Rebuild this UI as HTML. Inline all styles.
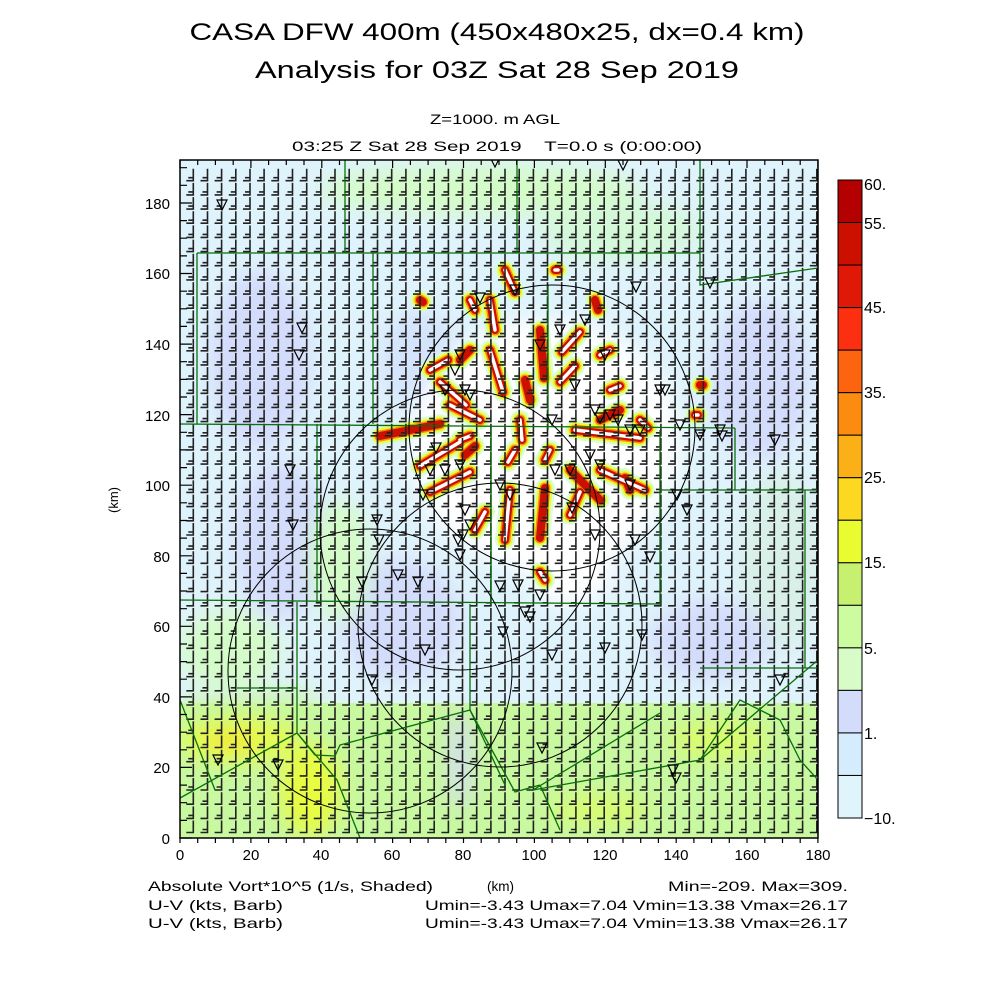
<!DOCTYPE html>
<html><head><meta charset="utf-8"><style>
html,body{margin:0;padding:0;background:#fff;}
svg{display:block;}
text{font-family:"Liberation Sans",sans-serif;fill:#000;}
</style></head><body>
<svg id="s" width="1000" height="1000" viewBox="0 0 1000 1000" xmlns="http://www.w3.org/2000/svg">
<defs>
<clipPath id="pc"><rect x="180" y="160" width="638" height="678"/></clipPath>
<filter id="bl" x="-50%" y="-50%" width="200%" height="200%"><feGaussianBlur stdDeviation="10"/></filter>
<filter id="bl2" x="-50%" y="-50%" width="200%" height="200%"><feGaussianBlur stdDeviation="3"/></filter>
</defs>
<text x="497" y="40" font-size="24" text-anchor="middle" textLength="615" lengthAdjust="spacingAndGlyphs">CASA DFW 400m (450x480x25, dx=0.4 km)</text>
<text x="497" y="78" font-size="24" text-anchor="middle" textLength="484" lengthAdjust="spacingAndGlyphs">Analysis for 03Z Sat 28 Sep 2019</text>
<text x="495" y="124" font-size="14" text-anchor="middle" textLength="130" lengthAdjust="spacingAndGlyphs">Z=1000. m AGL</text>
<text x="497" y="151" font-size="14" text-anchor="middle" textLength="410" lengthAdjust="spacingAndGlyphs" xml:space="preserve">03:25 Z Sat 28 Sep 2019    T=0.0 s (0:00:00)</text>
<g clip-path="url(#pc)">
<rect x="180" y="160" width="638" height="678" fill="#dff3fc"/>
<g filter="url(#bl)">
<ellipse cx="480" cy="190" rx="160" ry="25" fill="#d4fcc8"/>
<ellipse cx="620" cy="230" rx="80" ry="30" fill="#d4f8d8"/>
<ellipse cx="260" cy="360" rx="50" ry="90" fill="#d4dcfc"/>
<ellipse cx="280" cy="540" rx="45" ry="80" fill="#d4dcfc"/>
<ellipse cx="400" cy="620" rx="60" ry="60" fill="#d4dcfc"/>
<ellipse cx="420" cy="360" rx="40" ry="50" fill="#d4e4fc"/>
<ellipse cx="760" cy="380" rx="50" ry="80" fill="#d4dcfc"/>
<ellipse cx="780" cy="560" rx="40" ry="90" fill="#d8f0e8"/>
<ellipse cx="710" cy="640" rx="60" ry="40" fill="#d4dcfc"/>
<ellipse cx="340" cy="560" rx="30" ry="60" fill="#d4fcc8"/>
<ellipse cx="230" cy="650" rx="50" ry="40" fill="#d4fcc8"/>
</g>
<rect x="180" y="703" width="638" height="135" fill="#c8f8a0"/>
<path d="M180 700 L300 690 L330 705 L180 720Z" fill="#c8f8a0" filter="url(#bl)"/>
<g filter="url(#bl)">
<ellipse cx="240" cy="740" rx="60" ry="22" fill="#e4fc50"/>
<ellipse cx="310" cy="790" rx="30" ry="45" fill="#e8fc40"/>
<ellipse cx="230" cy="741" rx="25" ry="6" fill="#fcd820"/>
<ellipse cx="720" cy="740" rx="50" ry="20" fill="#d8fc70"/>
<ellipse cx="460" cy="760" rx="10" ry="50" fill="#d4dcfc"/>
<ellipse cx="600" cy="810" rx="50" ry="15" fill="#d8fc70"/>
</g>
<g filter="url(#bl)"><ellipse cx="545" cy="445" rx="135" ry="125" fill="#ffffff"/><ellipse cx="545" cy="445" rx="110" ry="100" fill="#ffffff"/><ellipse cx="570" cy="560" rx="45" ry="45" fill="#ffffff"/></g>
<g id="streaks" stroke-linecap="round" fill="none"></g>
<g id="barbs" stroke="#222" stroke-width="1.6" fill="none"></g>
<g stroke="#0a6e0a" stroke-width="1.3" fill="none">
<path d="M197 253 L700 253 M197 253 L197 424 M180 424 L735 428 M373 253 L373 424 M345 160 L345 253 M517 160 L517 253 M548 285 L548 430 M317 424 L317 602 M491 428 L491 604 M660 430 L660 604 M180 600 L660 604 M297 602 L297 733 M237 688 L297 688 M470 604 L470 710 M735 428 L735 490 M660 490 L818 490 M805 490 L805 668 M700 668 L818 668 M700 160 L700 285 L818 268"/>
<path d="M180 798 L297 733 L315 755 L335 756 L340 745 L470 710 L515 792 L540 785"/>
<path d="M470 710 L505 785 M540 785 L560 830 M180 700 L215 790 M660 713 L533 790 M533 790 L700 760 L818 660 M297 733 L337 780 L360 838 M700 760 L740 700 L780 720 L800 760 L818 780"/>
</g>
<g stroke="#000" stroke-width="1" fill="none">
<circle cx="552" cy="428" r="143"/>
<circle cx="460" cy="530" r="140"/>
<circle cx="500" cy="625" r="142"/>
<circle cx="370" cy="671" r="142"/>
</g>
<g id="tri" stroke="#000" stroke-width="1.2" fill="none"></g>
</g>
<rect x="180" y="160" width="638" height="678" fill="none" stroke="#000" stroke-width="1.5"/>
<g id="ticks" stroke="#000" stroke-width="1.2"></g>
<g font-size="15" text-anchor="middle">
<text x="180" y="860">0</text><text x="251" y="860">20</text><text x="321" y="860">40</text><text x="392" y="860">60</text><text x="463" y="860">80</text><text x="534" y="860">100</text><text x="605" y="860">120</text><text x="676" y="860">140</text><text x="747" y="860">160</text><text x="818" y="860">180</text>
</g>
<g font-size="15" text-anchor="end">
<text x="170" y="844">0</text><text x="170" y="773">20</text><text x="170" y="703">40</text><text x="170" y="632">60</text><text x="170" y="562">80</text><text x="170" y="491">100</text><text x="170" y="421">120</text><text x="170" y="350">140</text><text x="170" y="279">160</text><text x="170" y="209">180</text>
</g>
<text x="118" y="500" font-size="13" text-anchor="middle" transform="rotate(-90 118 500)">(km)</text>
<g id="cbar"></g>
<g font-size="16">
<text x="864" y="190">60.</text><text x="864" y="229">55.</text><text x="864" y="313">45.</text><text x="864" y="398">35.</text><text x="864" y="483">25.</text><text x="864" y="568">15.</text><text x="864" y="654">5.</text><text x="864" y="739">1.</text><text x="864" y="824">−10.</text>
</g>
<g font-size="14">
<text x="148" y="891" textLength="285" lengthAdjust="spacingAndGlyphs">Absolute Vort*10^5 (1/s, Shaded)</text>
<text x="487" y="891" textLength="27" lengthAdjust="spacingAndGlyphs">(km)</text>
<text x="668" y="891" textLength="180" lengthAdjust="spacingAndGlyphs">Min=-209. Max=309.</text>
<text x="148" y="910" textLength="135" lengthAdjust="spacingAndGlyphs">U-V (kts, Barb)</text>
<text x="425" y="910" textLength="423" lengthAdjust="spacingAndGlyphs">Umin=-3.43 Umax=7.04 Vmin=13.38 Vmax=26.17</text>
<text x="148" y="928" textLength="135" lengthAdjust="spacingAndGlyphs">U-V (kts, Barb)</text>
<text x="425" y="928" textLength="423" lengthAdjust="spacingAndGlyphs">Umin=-3.43 Umax=7.04 Vmin=13.38 Vmax=26.17</text>
</g>
</svg>
<script>
var NS="http://www.w3.org/2000/svg";
function el(p,t,a){var e=document.createElementNS(NS,t);for(var k in a)e.setAttribute(k,a[k]);p.appendChild(e);return e;}
var st=document.getElementById('streaks');
var S=[[505,270,515,292],[490,350,503,392],[540,330,544,378],[580,332,562,352],[560,382,575,366],[420,300,423,302],[470,300,475,310],[440,382,466,405],[380,436,440,424],[420,466,460,442],[430,492,470,472],[465,455,475,446],[475,530,485,512],[505,540,510,490],[540,538,545,488],[545,460,550,450],[570,515,580,492],[570,470,600,500],[575,430,640,438],[600,470,645,490],[625,478,630,490],[540,572,545,580],[508,462,515,450],[600,420,620,410],[610,390,620,386],[460,440,470,436],[700,385,703,385],[695,415,698,415],[555,270,558,270],[525,380,530,400],[450,405,480,420],[490,300,495,330],[595,300,598,310],[640,420,648,428],[430,370,448,360],[460,360,470,350],[520,420,522,440],[600,355,610,350]];
var layers=[["#d4fcc8",20,0.8],["#e8fc30",15,1],["#fc8c10",11,1],["#cc1000",8,1],["#ffffff",3.5,1]];
layers.forEach(function(L){S.forEach(function(s,i){var w=L[1];if(L[0]=="#ffffff"&&(i%3==2))return;
el(st,'line',{x1:s[0],y1:s[1],x2:s[2],y2:s[3],stroke:L[0],'stroke-width':w,opacity:L[2]});});});
var b=document.getElementById('barbs'),d="";
var dx=14.17;
for(var j=-40;j<12;j++){var y=705+dx*j;if(y<168||y>838)continue;
for(var i=0;i<45;i++){var x=193.3+dx*i;if(x>818)continue;
d+="M"+x.toFixed(1)+" "+(y-12).toFixed(1)+"V"+y.toFixed(1)+"h-7";
if(y<560||(i+j)%2==0)d+="M"+x.toFixed(1)+" "+(y-3).toFixed(1)+"h-5";}}
el(b,'path',{d:d});
var T=[[222,205],[302,328],[299,355],[495,162],[623,165],[480,298],[515,290],[560,330],[585,320],[605,355],[636,287],[460,355],[455,370],[465,390],[540,345],[552,420],[575,385],[595,410],[600,418],[610,415],[618,420],[630,430],[640,430],[665,390],[680,425],[700,435],[720,430],[775,440],[660,390],[445,390],[470,395],[436,448],[460,465],[445,470],[423,495],[430,470],[465,510],[470,525],[463,535],[458,540],[500,485],[510,495],[555,470],[570,470],[590,455],[600,465],[630,485],[635,540],[650,557],[677,495],[687,510],[290,470],[377,520],[379,540],[293,525],[398,575],[418,582],[362,582],[460,555],[500,586],[518,585],[525,612],[530,617],[503,632],[552,655],[605,648],[642,635],[425,650],[372,680],[278,765],[218,760],[542,748],[673,770],[676,778],[780,680],[710,283],[722,436],[540,595],[595,535],[572,508]];
var tg=document.getElementById('tri');
T.forEach(function(t){el(tg,'path',{d:"M"+(t[0]-5)+" "+(t[1]-5)+"h10l-5 10z"});});
var tk=document.getElementById('ticks'),td="";
for(var k=0;k<=36;k++){var x=180+k*3.544*5;td+="M"+x.toFixed(1)+" 838v5M"+x.toFixed(1)+" 160v"+(k%4==0?8:5);}
for(var k=0;k<=38;k++){var y=838-k*3.528*5;if(y<160)break;td+="M180 "+y.toFixed(1)+"h"+(k%4==0?12:7);}
el(tk,'path',{d:td});
var cb=document.getElementById('cbar');
var C=["#b40000","#cc1000","#e01808","#fc3010","#fc6410","#fc8c10","#fcb018","#fcd820","#e8fc30","#c8f070","#ccfca0","#d8fcc8","#d4dcfc","#d4ecfc","#e0f4fc"];
var h=(818-180)/15;
C.forEach(function(c,i){el(cb,'rect',{x:838,y:180+i*h,width:24,height:h,fill:c,stroke:"#000","stroke-width":1});});
</script>
</body></html>
